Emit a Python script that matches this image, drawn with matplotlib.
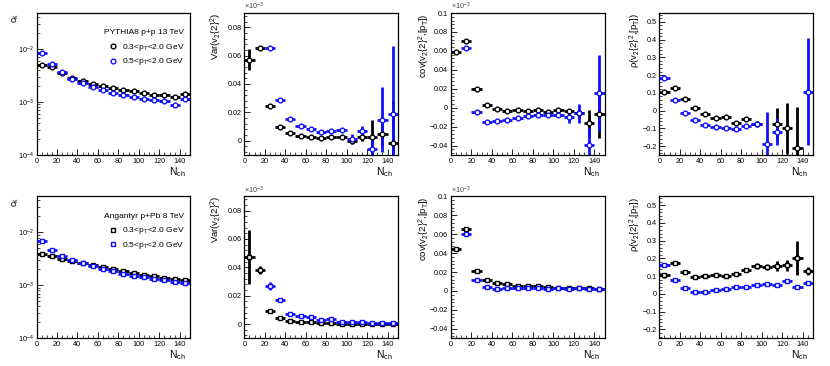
import numpy as np
import matplotlib
matplotlib.use("Agg")
import matplotlib.pyplot as plt
from matplotlib.ticker import AutoMinorLocator, MultipleLocator, LogLocator, NullFormatter, FuncFormatter
from matplotlib.lines import Line2D

plt.rcParams['font.family'] = ['Liberation Sans', 'DejaVu Sans']
plt.rcParams['mathtext.fontset'] = 'custom'
plt.rcParams['mathtext.rm'] = 'Liberation Sans'
plt.rcParams['mathtext.it'] = 'Liberation Sans'

BLACK = '#000000'
BLUE = '#1010ff'

nch = [5, 15, 25, 35, 45, 55, 65, 75, 85, 95, 105, 115, 125, 135, 145]

# ---------- p+p (PYTHIA8) ----------
ck_pp_a = [5.06e-3, 4.5e-3, 3.5e-3, 2.8e-3, 2.53e-3, 2.22e-3, 2.04e-3, 1.84e-3, 1.71e-3, 1.59e-3, 1.48e-3, 1.37e-3, 1.37e-3, 1.24e-3, 1.43e-3]
ck_pp_b = [8.4e-3, 5.3e-3, 3.63e-3, 2.75e-3, 2.3e-3, 1.92e-3, 1.71e-3, 1.5e-3, 1.34e-3, 1.22e-3, 1.16e-3, 1.09e-3, 1.06e-3, 0.88e-3, 1.14e-3]

var_pp_a = [0.0572, 0.0652, 0.0242, 0.0099, 0.0054, 0.0035, 0.0028, 0.0019, 0.0026, 0.0028, 0.0000, 0.0030, 0.0024, 0.0050, -0.0019]
var_pp_a_err = [0.0076, 0.001, 0.001, 0.001, 0.001, 0.0005, 0.0005, 0.0005, 0.0005, 0.0006, 0.002, 0.003, 0.012, 0.009, 0.030]
var_pp_b = [np.nan, np.nan, 0.0656, 0.0289, 0.0153, 0.0104, 0.0082, 0.0059, 0.0066, 0.0075, 0.0016, 0.0066, -0.0059, 0.0148, 0.0188]
var_pp_b_err = [0, 0, 0.001, 0.001, 0.001, 0.001, 0.001, 0.001, 0.001, 0.0015, 0.003, 0.004, 0.009, 0.023, 0.048]

cov_pp_a = [0.0584, 0.0700, 0.0195, 0.0028, -0.0018, -0.0032, -0.0021, -0.0035, -0.0028, -0.0046, -0.0025, -0.0039, -0.0060, -0.0166, -0.0071]
cov_pp_a_err = [0.001, 0.001, 0.001, 0.001, 0.001, 0.001, 0.001, 0.001, 0.001, 0.001, 0.001, 0.002, 0.004, 0.014, 0.025]
cov_pp_b = [np.nan, 0.0627, -0.0046, -0.0149, -0.0145, -0.0127, -0.0110, -0.0088, -0.0078, -0.0074, -0.0081, -0.0099, -0.0057, -0.0390, 0.0156]
cov_pp_b_err = [0, 0.001, 0.001, 0.001, 0.001, 0.001, 0.001, 0.001, 0.001, 0.001, 0.002, 0.006, 0.010, 0.017, 0.040]

rho_pp_a = [0.107, 0.129, 0.064, 0.013, -0.021, -0.039, -0.036, -0.071, -0.049, -0.073, np.nan, -0.073, -0.100, -0.210, np.nan]
rho_pp_a_err = [0.01, 0.005, 0.005, 0.005, 0.005, 0.005, 0.005, 0.008, 0.008, 0.012, 0, 0.090, 0.145, 0.230, 0]
rho_pp_b = [0.182, 0.058, -0.013, -0.052, -0.082, -0.094, -0.097, -0.101, -0.086, -0.077, -0.189, -0.118, np.nan, np.nan, 0.107]
rho_pp_b_err = [0.005, 0.005, 0.005, 0.005, 0.005, 0.005, 0.005, 0.008, 0.008, 0.010, 0.180, 0.078, 0, 0, 0.300]

# ---------- p+Pb (Angantyr) ----------
ck_ppb_a = [3.95e-3, 3.63e-3, 3.14e-3, 2.92e-3, 2.64e-3, 2.42e-3, 2.22e-3, 2.0e-3, 1.84e-3, 1.71e-3, 1.59e-3, 1.48e-3, 1.39e-3, 1.32e-3, 1.26e-3]
ck_ppb_b = [6.76e-3, 4.7e-3, 3.6e-3, 2.96e-3, 2.64e-3, 2.3e-3, 2.04e-3, 1.84e-3, 1.66e-3, 1.52e-3, 1.42e-3, 1.32e-3, 1.24e-3, 1.17e-3, 1.11e-3]

var_ppb_a = [0.047, 0.038, 0.0089, 0.0045, 0.0024, 0.0016, 0.0012, 0.0007, 0.0005, 0.0003, 0.0003, 0.0003, 0.0003, 0.0003, 0.0003]
var_ppb_a_err = [0.019, 0.003, 0.001, 0.0008, 0.0005, 0.0004, 0.0004, 0.0003, 0.0003, 0.0003, 0.0003, 0.0003, 0.0003, 0.0003, 0.0003]
var_ppb_b = [np.nan, np.nan, 0.0268, 0.0167, 0.0070, 0.0059, 0.0047, 0.0028, 0.0033, 0.0012, 0.0014, 0.0012, 0.0007, 0.0009, 0.0009]
var_ppb_b_err = [0, 0, 0.003, 0.001, 0.001, 0.0008, 0.0008, 0.0006, 0.0006, 0.0005, 0.0005, 0.0005, 0.0005, 0.0005, 0.0005]

cov_ppb_a = [0.0439, 0.0658, 0.0212, 0.0113, 0.0085, 0.0071, 0.0057, 0.0057, 0.0050, 0.0042, 0.0035, 0.0028, 0.0032, 0.0032, 0.0025]
cov_ppb_a_err = [0.002, 0.001, 0.001, 0.001, 0.001, 0.001, 0.001, 0.001, 0.001, 0.001, 0.001, 0.001, 0.001, 0.001, 0.001]
cov_ppb_b = [np.nan, 0.0602, 0.0120, 0.0039, 0.0025, 0.0032, 0.0028, 0.0032, 0.0028, 0.0025, 0.0032, 0.0025, 0.0032, 0.0021, 0.0025]
cov_ppb_b_err = [0, 0.001, 0.001, 0.001, 0.001, 0.001, 0.001, 0.001, 0.001, 0.001, 0.001, 0.001, 0.001, 0.001, 0.001]

rho_ppb_a = [0.105, 0.172, 0.124, 0.096, 0.103, 0.109, 0.099, 0.114, 0.133, 0.157, 0.152, 0.157, 0.161, 0.204, 0.129]
rho_ppb_a_err = [0.015, 0.006, 0.006, 0.006, 0.006, 0.006, 0.006, 0.008, 0.008, 0.015, 0.015, 0.030, 0.030, 0.095, 0.020]
rho_ppb_b = [0.161, 0.077, 0.036, 0.013, 0.013, 0.024, 0.030, 0.039, 0.037, 0.052, 0.058, 0.051, 0.073, 0.039, 0.062]
rho_ppb_b_err = [0.005, 0.005, 0.005, 0.005, 0.005, 0.005, 0.005, 0.005, 0.005, 0.006, 0.006, 0.006, 0.008, 0.008, 0.008]

label_a = '0.3<p$_{T}$<2.0 GeV'
label_b = '0.5<p$_{T}$<2.0 GeV'

fig = plt.figure(figsize=(8.3, 3.66), dpi=100)
W, H = 830.0, 366.0
col_left = [36.5, 244.3, 451.0, 659.3]
row_top = [13.0, 196.3]
pw, ph = 153.5, 142.0
ylab_x = [-0.10, -0.13, -0.125, -0.105]   # axes fraction, right edge of the rotated label


def make_ax(r, c):
    x0 = col_left[c] / W
    y0 = 1 - (row_top[r] + ph) / H
    return fig.add_axes([x0, y0, pw / W, ph / H])


def draw(ax, y, yerr, color, marker):
    ax.errorbar(nch, y, xerr=5, yerr=yerr, fmt=marker, color=color,
                mfc='white', mec=color, ms=3.4, mew=1.0, elinewidth=2.0,
                capsize=0, zorder=3)


def gfmt(v, pos):
    s = '%g' % round(v, 6)
    if s == '-0':
        s = '0'
    return s.replace('-', '\u2212')


def style(ax, ylabel, c, log=False):
    ax.set_xlim(0, 150)
    ax.xaxis.set_major_locator(MultipleLocator(20))
    ax.xaxis.set_minor_locator(MultipleLocator(5))
    if not log:
        ax.yaxis.set_minor_locator(AutoMinorLocator(5))
        ax.yaxis.set_major_formatter(FuncFormatter(gfmt))
    ax.tick_params(which='both', direction='in', top=False, right=False,
                   labelsize=5.2, pad=2)
    ax.tick_params(which='major', length=4, width=0.6)
    ax.tick_params(which='minor', length=2, width=0.5)
    for s in ax.spines.values():
        s.set_linewidth(0.9)
    ax.set_ylabel(ylabel, fontsize=6.8, loc='top')
    ax.yaxis.set_label_coords(ylab_x[c], 1.0)
    ax.set_xlabel('N$_{ch}$', fontsize=7.5, loc='right')
    ax.xaxis.set_label_coords(0.97, -0.07)
    ax.xaxis.label.set_va('top')


marker_of = ['o', 's']
sets = [
    dict(ck=(ck_pp_a, ck_pp_b), var=(var_pp_a, var_pp_a_err, var_pp_b, var_pp_b_err),
         cov=(cov_pp_a, cov_pp_a_err, cov_pp_b, cov_pp_b_err),
         rho=(rho_pp_a, rho_pp_a_err, rho_pp_b, rho_pp_b_err),
         title='PYTHIA8 p+p 13 TeV'),
    dict(ck=(ck_ppb_a, ck_ppb_b), var=(var_ppb_a, var_ppb_a_err, var_ppb_b, var_ppb_b_err),
         cov=(cov_ppb_a, cov_ppb_a_err, cov_ppb_b, cov_ppb_b_err),
         rho=(rho_ppb_a, rho_ppb_a_err, rho_ppb_b, rho_ppb_b_err),
         title='Angantyr p+Pb 8 TeV'),
]

for r, d in enumerate(sets):
    m = marker_of[r]

    # c_k
    ax = make_ax(r, 0)
    ax.set_yscale('log')
    draw(ax, d['ck'][0], None, BLACK, m)
    draw(ax, d['ck'][1], None, BLUE, m)
    ax.set_ylim(1e-4, 0.048)
    ax.yaxis.set_major_locator(LogLocator(base=10, numticks=10))
    ax.yaxis.set_minor_locator(LogLocator(base=10, subs=np.arange(2, 10), numticks=10))
    ax.yaxis.set_minor_formatter(NullFormatter())
    style(ax, 'c$_{k}$', 0, log=True)
    ax.text(0.96, 0.86, d['title'], transform=ax.transAxes, ha='right',
            va='center', fontsize=6)
    handles = [Line2D([], [], ls='none', marker=m, mfc='white', mec=BLACK, ms=3.4, mew=1.0),
               Line2D([], [], ls='none', marker=m, mfc='white', mec=BLUE, ms=3.4, mew=1.0)]
    ax.legend(handles, [label_a, label_b], loc='upper right',
              bbox_to_anchor=(1.0, 0.83), frameon=False, fontsize=6,
              handlelength=1.0, handletextpad=0.6, labelspacing=0.4,
              borderaxespad=0.2)

    # Var
    ax = make_ax(r, 1)
    draw(ax, d['var'][0], d['var'][1], BLACK, m)
    draw(ax, d['var'][2], d['var'][3], BLUE, m)
    ax.set_ylim(-0.01, 0.09)
    ax.yaxis.set_major_locator(MultipleLocator(0.02))
    style(ax, 'Var(v$_{2}${2}$^{2}$)', 1)
    ax.text(0.0, 1.005, r'$\times$10$^{-3}$', transform=ax.transAxes,
            fontsize=5.2, ha='left', va='bottom', color='#444444')

    # cov
    ax = make_ax(r, 2)
    draw(ax, d['cov'][0], d['cov'][1], BLACK, m)
    draw(ax, d['cov'][2], d['cov'][3], BLUE, m)
    ax.set_ylim(-0.05, 0.1)
    ax.yaxis.set_major_locator(MultipleLocator(0.02))
    style(ax, 'cov(v$_{2}${2}$^{2}$,[p$_{T}$])', 2)
    ax.text(0.0, 1.005, r'$\times$10$^{-3}$', transform=ax.transAxes,
            fontsize=5.2, ha='left', va='bottom', color='#444444')

    # rho
    ax = make_ax(r, 3)
    draw(ax, d['rho'][0], d['rho'][1], BLACK, m)
    draw(ax, d['rho'][2], d['rho'][3], BLUE, m)
    ax.set_ylim(-0.25, 0.55)
    ax.yaxis.set_major_locator(MultipleLocator(0.1))
    style(ax, '$\\rho$(v$_{2}${2}$^{2}$,[p$_{T}$])', 3)

fig.savefig('out.png', dpi=100)
